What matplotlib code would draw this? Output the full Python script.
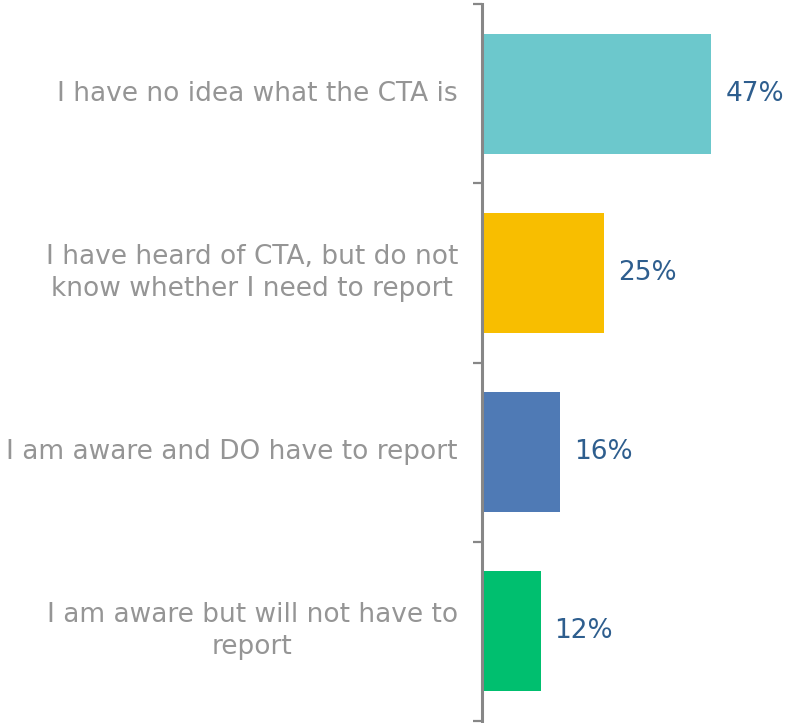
import matplotlib
matplotlib.use("Agg")
import matplotlib.pyplot as plt
from matplotlib.transforms import offset_copy

categories = [
    "I have no idea what the CTA is",
    "I have heard of CTA, but do not\nknow whether I need to report",
    "I am aware and DO have to report",
    "I am aware but will not have to\nreport",
]
values = [47, 25, 16, 12]
value_labels = ["47%", "25%", "16%", "12%"]
colors = ["#6CC8CC", "#F8BE00", "#4F7AB5", "#00BF6F"]

plt.rcParams['font.family'] = ['DejaVu Sans']

W, H = 789, 723
fig = plt.figure(figsize=(W / 100, H / 100), dpi=100)
ax_left = 482 / W
ax_bottom = (H - 721) / H
ax_top = (H - 4) / H
ax = fig.add_axes([ax_left, ax_bottom, 1 - ax_left, ax_top - ax_bottom])

n = len(categories)
ypos = list(range(n))
ax.barh(ypos, values, height=0.67, color=colors)
ax.set_ylim(n - 0.5, -0.5)
ax.set_xlim(0, (W - 482) / 4.88)

for s in ["top", "right", "bottom"]:
    ax.spines[s].set_visible(False)
ax.spines["left"].set_color("#878787")
ax.spines["left"].set_linewidth(2.2)
ax.set_xticks([])
ax.set_yticks([i - 0.5 for i in range(n + 1)])
ax.set_yticklabels([])
ax.tick_params(axis='y', length=6.5, width=1.6, color="#878787", direction='out')

for i, lab in enumerate(categories):
    t = offset_copy(ax.transData, fig=fig, x=-24, y=0, units='dots')
    ax.text(0, i, lab, transform=t, ha='right', va='center', multialignment='center',
            fontsize=19, fontweight='normal', color="#959595", linespacing=1.3)

for i, (v, lab) in enumerate(zip(values, value_labels)):
    t = offset_copy(ax.transData, fig=fig, x=14, y=0, units='dots')
    ax.text(v, i, lab, transform=t, ha='left', va='center', fontsize=19,
            fontweight='normal', color="#2E5E8E")

fig.savefig("out.png", dpi=100)
